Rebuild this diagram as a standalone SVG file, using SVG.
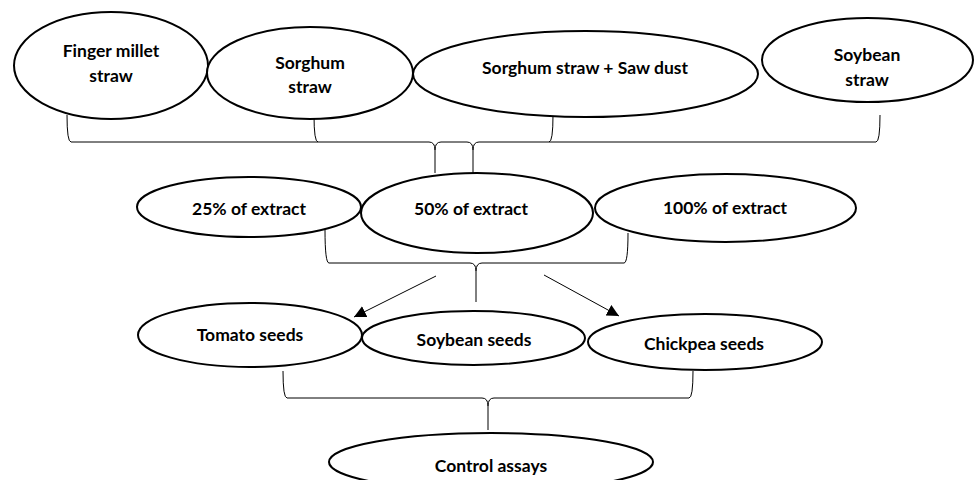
<svg xmlns="http://www.w3.org/2000/svg" width="975" height="480" viewBox="0 0 975 480">
<style>
.node ellipse{fill:#fff;stroke:#000;stroke-width:2}
.node text{font-family:Lato,"Liberation Sans",sans-serif;font-weight:bold;font-size:17.5px;text-anchor:middle;fill:#000}
.brace{fill:none;stroke:#000;stroke-width:1}
.arrow{fill:none;stroke:#000;stroke-width:1;marker-end:url(#ah)}
</style>
<defs>
<marker id="ah" markerUnits="userSpaceOnUse" markerWidth="14" markerHeight="14" refX="12" refY="6" orient="auto">
<path d="M0,0 L12,6 L0,12 Z" fill="#000"/>
</marker>
</defs>
<rect width="975" height="480" fill="#fff"/>
<g id="connectors">
<path class="brace" d="M67,115 Q67,142 71,142 L429,142 Q435,142 435,150 L435,173 M435,150 Q435,142 441,142 L467,142 Q473,142 473,150 L473,173 M473,150 Q473,142 479,142 L876,142 Q880,142 880,115 M314,115 Q314,142 318,142 M553,115 Q553,142 549,142"/>
<path class="brace" d="M325,230 Q325,263 329,263 L470,263 Q476,263 476,271 L476,302 M476,271 Q476,263 482,263 L624,263 Q628,263 628,233"/>
<path class="brace" d="M283,371 Q283,398 287,398 L482,398 Q488,398 488,406 L488,430 M488,406 Q488,398 494,398 L689,398 Q693,398 693,371"/>
<path class="arrow" d="M436,276 L354,317"/>
<path class="arrow" d="M544,275 L619,316"/>
</g>
<g id="finger-millet" class="node">
<ellipse cx="111" cy="65.5" rx="97" ry="53.5"/>
<text x="111" y="56.5">Finger millet</text>
<text x="111" y="81.5">straw</text>
</g>
<g id="sorghum-straw" class="node">
<ellipse cx="310" cy="73" rx="103" ry="46"/>
<text x="310" y="68.5">Sorghum</text>
<text x="310" y="92.5">straw</text>
</g>
<g id="sorghum-sawdust" class="node">
<ellipse cx="585.5" cy="74" rx="172.5" ry="43"/>
<text x="585" y="73.5">Sorghum straw + Saw dust</text>
</g>
<g id="soybean-straw" class="node">
<ellipse cx="867.5" cy="60" rx="105.5" ry="42"/>
<text x="867" y="60.5">Soybean</text>
<text x="867" y="85.5">straw</text>
</g>
<g id="extract-25" class="node">
<ellipse cx="249" cy="207" rx="112" ry="30"/>
<text x="249" y="214.5">25% of extract</text>
</g>
<g id="extract-50" class="node">
<ellipse cx="477" cy="213" rx="116" ry="40"/>
<text x="471" y="214.5">50% of extract</text>
</g>
<g id="extract-100" class="node">
<ellipse cx="725.5" cy="208" rx="130.5" ry="34"/>
<text x="725" y="213.5">100% of extract</text>
</g>
<g id="tomato" class="node">
<ellipse cx="250" cy="335" rx="112" ry="32"/>
<text x="250" y="340.5">Tomato seeds</text>
</g>
<g id="soybean-seeds" class="node">
<ellipse cx="473.5" cy="338" rx="111.5" ry="27"/>
<text x="474" y="345.5">Soybean seeds</text>
</g>
<g id="chickpea" class="node">
<ellipse cx="705" cy="342" rx="117" ry="28"/>
<text x="704" y="349.5">Chickpea seeds</text>
</g>
<g id="control" class="node">
<ellipse cx="491" cy="462" rx="162" ry="29"/>
<text x="491" y="471.5">Control assays</text>
</g>
</svg>
